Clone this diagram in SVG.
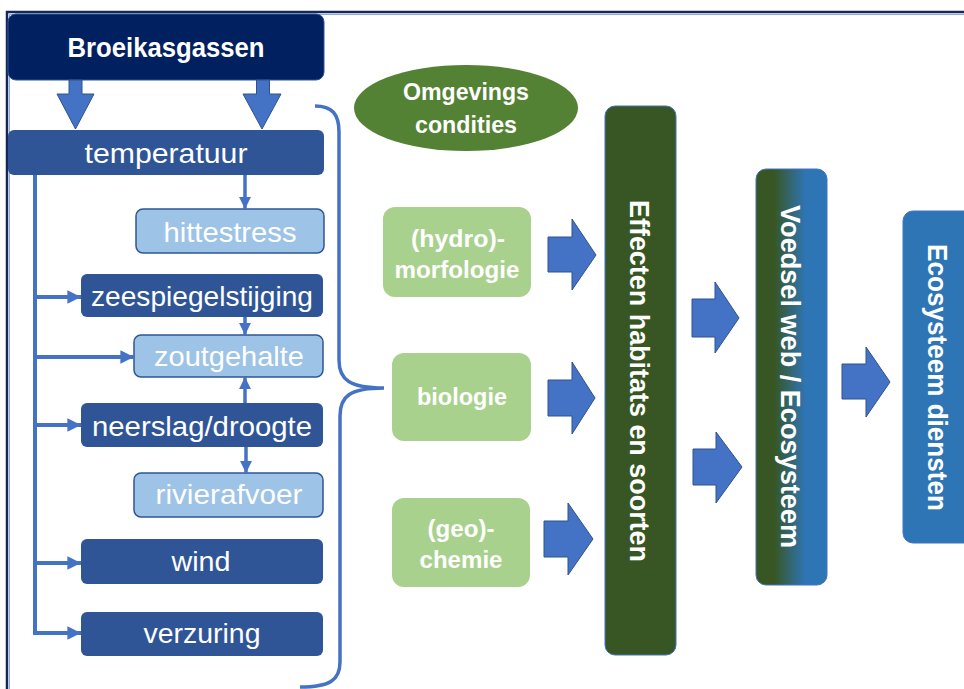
<svg xmlns="http://www.w3.org/2000/svg" width="964" height="689" viewBox="0 0 964 689">
  <defs>
    <style>
      .t { font-family: "Liberation Sans", Arial, sans-serif; fill: #ffffff; text-anchor: middle; }
      .b { font-weight: bold; }
      .dark { fill: #2F5597; }
      .light { fill: #9DC3E6; stroke: #2F5597; stroke-width: 1.5; }
      .green { fill: #A9D18E; }
      .block { fill: #4472C4; stroke: #2F528F; stroke-width: 1; }
      .line { fill: none; stroke: #4472C4; stroke-width: 4; }
      .thin { fill: none; stroke: #4472C4; stroke-width: 3.5; }
    </style>
    <marker id="ah" viewBox="0 0 10 10" refX="10" refY="5" markerWidth="4" markerHeight="3.4" orient="auto" markerUnits="strokeWidth">
      <path d="M0,0 L10,5 L0,10 Z" fill="#4472C4"/>
    </marker>
    <linearGradient id="gv" x1="0" y1="0" x2="1" y2="0">
      <stop offset="0" stop-color="#375623"/>
      <stop offset="0.25" stop-color="#375623"/>
      <stop offset="0.7" stop-color="#2E75B6"/>
      <stop offset="1" stop-color="#2E75B6"/>
    </linearGradient>
  </defs>

  <rect width="964" height="689" fill="#ffffff"/>
  <!-- outer frame -->
  <path d="M7,689 L7,12 L964,12" fill="none" stroke="#14285C" stroke-width="2.5"/>
  <path d="M9.5,689 L9.5,14.5 L964,14.5" fill="none" stroke="#8FAADC" stroke-width="1"/>

  <!-- source node -->
  <g id="broeikasgassen">
    <rect x="8" y="14" width="316" height="66" rx="8" fill="#002060" stroke="#2F5597" stroke-width="1"/>
    <text class="t b" x="166" y="57" font-size="27" textLength="197" lengthAdjust="spacingAndGlyphs">Broeikasgassen</text>
  </g>

  <!-- climate drivers -->
  <g id="temperatuur">
    <rect class="dark" x="8" y="130" width="316" height="45" rx="6"/>
    <text class="t" x="166" y="163" font-size="28" textLength="163" lengthAdjust="spacingAndGlyphs">temperatuur</text>
  </g>
  <g id="hittestress">
    <rect class="light" x="136" y="209" width="188" height="44" rx="7"/>
    <text class="t" x="230" y="242" font-size="28" textLength="133" lengthAdjust="spacingAndGlyphs">hittestress</text>
  </g>
  <g id="zeespiegelstijging">
    <rect class="dark" x="81" y="274" width="242" height="43" rx="6"/>
    <text class="t" x="202" y="306" font-size="28" textLength="222" lengthAdjust="spacingAndGlyphs">zeespiegelstijging</text>
  </g>
  <g id="zoutgehalte">
    <rect class="light" x="134" y="335" width="189" height="42" rx="7"/>
    <text class="t" x="229" y="366" font-size="28" textLength="150" lengthAdjust="spacingAndGlyphs">zoutgehalte</text>
  </g>
  <g id="neerslag">
    <rect class="dark" x="81" y="403" width="242" height="44" rx="6"/>
    <text class="t" x="202" y="436" font-size="28" textLength="220" lengthAdjust="spacingAndGlyphs">neerslag/droogte</text>
  </g>
  <g id="rivierafvoer">
    <rect class="light" x="134" y="473" width="189" height="44" rx="7"/>
    <text class="t" x="229" y="504" font-size="28" textLength="147" lengthAdjust="spacingAndGlyphs">rivierafvoer</text>
  </g>
  <g id="wind">
    <rect class="dark" x="81" y="539" width="242" height="45" rx="6"/>
    <text class="t" x="201" y="571" font-size="28" textLength="59" lengthAdjust="spacingAndGlyphs">wind</text>
  </g>
  <g id="verzuring">
    <rect class="dark" x="81" y="612" width="242" height="44" rx="6"/>
    <text class="t" x="202" y="643" font-size="28" textLength="117" lengthAdjust="spacingAndGlyphs">verzuring</text>
  </g>

  <!-- environmental conditions -->
  <g id="omgevingscondities">
    <ellipse cx="466" cy="108" rx="112" ry="43" fill="#548235"/>
    <text class="t b" x="466" y="100" font-size="23" textLength="126" lengthAdjust="spacingAndGlyphs">Omgevings</text>
    <text class="t b" x="466" y="133" font-size="23" textLength="102" lengthAdjust="spacingAndGlyphs">condities</text>
  </g>
  <g id="hydromorfologie">
    <rect class="green" x="383" y="207" width="148" height="90" rx="12"/>
    <text class="t b" x="458" y="247" font-size="23" textLength="94" lengthAdjust="spacingAndGlyphs">(hydro)-</text>
    <text class="t b" x="457" y="278" font-size="23" textLength="125" lengthAdjust="spacingAndGlyphs">morfologie</text>
  </g>
  <g id="biologie">
    <rect class="green" x="392" y="353" width="139" height="88" rx="12"/>
    <text class="t b" x="462" y="405" font-size="23" textLength="90" lengthAdjust="spacingAndGlyphs">biologie</text>
  </g>
  <g id="geochemie">
    <rect class="green" x="392" y="498" width="138" height="89" rx="12"/>
    <text class="t b" x="461" y="537" font-size="23" textLength="67" lengthAdjust="spacingAndGlyphs">(geo)-</text>
    <text class="t b" x="461" y="568" font-size="23" textLength="83" lengthAdjust="spacingAndGlyphs">chemie</text>
  </g>

  <!-- effect chain -->
  <g id="effecten">
    <rect x="605" y="106" width="71" height="549" rx="10" fill="#375623" stroke="#4472C4" stroke-width="1"/>
    <text class="t b" transform="translate(640,381) rotate(90)" x="0" y="10" font-size="28" textLength="362" lengthAdjust="spacingAndGlyphs">Effecten habitats en soorten</text>
  </g>
  <g id="voedselweb">
    <rect x="756" y="169" width="71" height="416" rx="10" fill="url(#gv)" stroke="#4472C4" stroke-width="1"/>
    <text class="t b" transform="translate(791,376.5) rotate(90)" x="0" y="10" font-size="28" textLength="343" lengthAdjust="spacingAndGlyphs">Voedsel web / Ecosysteem</text>
  </g>
  <g id="ecosysteemdiensten">
    <rect x="903" y="211" width="80" height="332" rx="10" fill="#2E75B6" stroke="#4472C4" stroke-width="1"/>
    <text class="t b" transform="translate(938,377.5) rotate(90)" x="0" y="10" font-size="28" textLength="267" lengthAdjust="spacingAndGlyphs">Ecosysteem diensten</text>
  </g>

  <!-- connectors -->
  <g id="connectors">
    <!-- block arrows -->
    <path class="block" d="M69,80 H82 V94 H94 L75.5,129 L57,94 H69 Z"/>
    <path class="block" d="M256.5,80 H269.5 V94 H281 L262,129 L243,94 H256.5 Z"/>
    <path class="block" d="M548,237 H572 V219 L596,255 L572,290 V272 H548 Z"/>
    <path class="block" d="M548,380 H572 V362 L595,398 L572,434 V416 H548 Z"/>
    <path class="block" d="M544,521 H568 V503 L593,539 L568,575 V557 H544 Z"/>
    <path class="block" d="M692,299 H715 V282 L739,318 L715,353 V337 H692 Z"/>
    <path class="block" d="M693,449 H716 V432 L742,467 L716,503 V485 H693 Z"/>
    <path class="block" d="M842,364 H866 V347 L890,382 L866,417 V399 H842 Z"/>

    <!-- trunk from temperatuur -->
    <path class="line" d="M35,175 V633"/>
    <path class="line" d="M35,297 H81" marker-end="url(#ah)"/>
    <path class="line" d="M35,357 H134" marker-end="url(#ah)"/>
    <path class="line" d="M35,425 H81" marker-end="url(#ah)"/>
    <path class="line" d="M35,563 H81" marker-end="url(#ah)"/>
    <path class="line" d="M33,633 H81" marker-end="url(#ah)"/>

    <!-- short vertical links -->
    <path class="thin" d="M245,175 V209" marker-end="url(#ah)"/>
    <path class="thin" d="M245,317 V335" marker-end="url(#ah)"/>
    <path class="thin" d="M245,403 V377" marker-end="url(#ah)"/>
    <path class="thin" d="M246,447 V473" marker-end="url(#ah)"/>

    <!-- brace grouping the drivers -->
    <path d="M315,106 C332,106 339,114 339,132 L339,360 C339,380 350,388 384,388 C350,388 340,396 340,416 L340,662 C340,680 330,687 300,687" fill="none" stroke="#4472C4" stroke-width="3.5"/>
  </g>
</svg>
